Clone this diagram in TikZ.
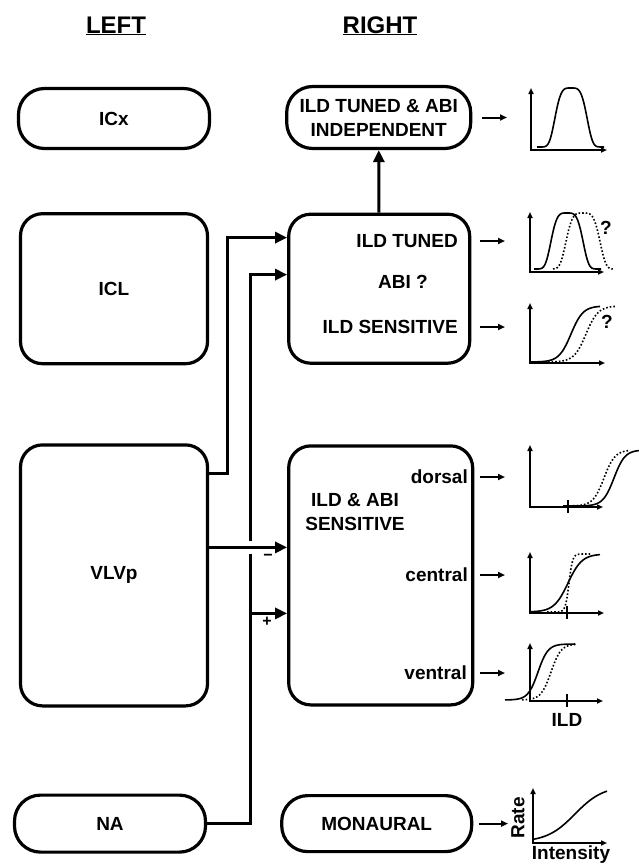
\documentclass[tikz,border=0pt]{standalone}
\usepackage{fontspec}
\setmainfont{Liberation Sans}
\usepackage{tikz}
\usetikzlibrary{positioning,calc,arrows.meta}

\begin{document}
\begin{tikzpicture}[
    x=1pt, y=-1pt,
    font=\fontsize{19}{24}\selectfont\bfseries,
    region/.style={rectangle, draw=black, line width=3.2pt, rounded corners=22pt, inner sep=0pt, align=center},
    pill/.style={region, rounded corners=26pt},
    lbl/.style={inner sep=0pt, anchor=east},
    heading/.style={inner sep=0pt, anchor=base, font=\fontsize{24}{28}\selectfont\bfseries},
    sign/.style={inner sep=0pt, font=\fontsize{16}{16}\selectfont\bfseries},
    arrow/.style={-{Triangle[length=12pt, width=11pt]}, line width=3pt},
    sarrow/.style={-{Triangle[length=7pt, width=6pt]}, line width=2pt},
    axis/.style={{Triangle[length=6pt, width=5pt]}-{Triangle[length=6pt, width=5pt]}, line width=1.5pt},
    tick/.style={line width=1.3pt},
    resp/.style={line width=1.6pt, line join=round},
    alt/.style={resp, dash pattern=on 1.6pt off 2pt}
]
\useasboundingbox (0,0) rectangle (639,865);

% headings
\node[heading] (leftHead) at (116,33) {\underline{LEFT}};
\node[heading] (rightHead) at (380,33) {\underline{RIGHT}};

% left side nuclei
\node[pill, minimum width=191pt, minimum height=60pt] (ICx) at (114,118.5) {ICx};
\node[region, minimum width=187pt, minimum height=150pt, below=62pt of ICx] (ICL) {ICL};
\node[region, minimum width=187pt, minimum height=261pt, below=78pt of ICL] (VLVp) {VLVp};
\node[pill, minimum width=191pt, minimum height=57pt, below=86pt of VLVp, xshift=-4pt] (NA) {NA};

% right side nuclei
\node[pill, minimum width=184pt, minimum height=62pt, right=74pt of ICx, yshift=1pt] (tunedIndep) {ILD TUNED \& ABI\\INDEPENDENT};
\node[region, minimum width=181pt, minimum height=149pt, right=78pt of ICL] (tunedBox) {};
\node[region, minimum width=184pt, minimum height=259pt, right=78pt of VLVp] (sensBox) {};
\node[pill, minimum width=190pt, minimum height=56pt, right=73pt of NA] (monaural) {MONAURAL};

\node[lbl] (ildTuned) at (458,241) {ILD TUNED};
\node[inner sep=0pt] (abiQ) at (403,282) {ABI ?};
\node[lbl] (ildSens) at (458,327) {ILD SENSITIVE};
\node[inner sep=0pt, align=center] (sensTitle) at (355,512) {ILD \& ABI\\SENSITIVE};
\node[lbl] (dorsal) at (468,477) {dorsal};
\node[lbl] (central) at (468,575) {central};
\node[lbl] (ventral) at (467,673) {ventral};

% projections
\coordinate (naBend) at ([xshift=43pt]NA.east);
\coordinate (inhib) at ([yshift=28pt]VLVp.east);
\coordinate (excit) at ([yshift=-38pt]sensBox.west);

\draw[arrow] ([yshift=-30pt]VLVp.north east) -- ++(18,0) |- ([yshift=-25pt]tunedBox.north west);
\draw[arrow] (NA.east) -- (naBend) |- ([yshift=-62pt]tunedBox.north west);
\draw[white, line width=13pt] ($(inhib -| naBend)+(-5,0)$) -- ($(inhib -| naBend)+(5,0)$);
\draw[arrow] (inhib) -- (inhib -| sensBox.west);
\draw[arrow] (excit -| naBend) -- (excit);
\draw[arrow] (tunedBox) -- (tunedIndep);

\node[sign] (minus) at (268,557) {−};
\node[sign] (plus) at (267,622) {+};

% response curves
\coordinate (g1) at (531,150);
\coordinate (g2) at (530,272);
\coordinate (g3) at (530,363);
\coordinate (g4) at (530,507);
\coordinate (g5) at (530,613);
\coordinate (g6) at (530,701);
\coordinate (g7) at (533,843);

\draw[sarrow, shorten <=10pt, shorten >=24pt] (tunedIndep.east) -- (tunedIndep.east -| g1);
\draw[sarrow, shorten <=9pt, shorten >=25pt] (ildTuned -| tunedBox.east) -- (ildTuned -| g2);
\draw[sarrow, shorten <=9pt, shorten >=25pt] (ildSens -| tunedBox.east) -- (ildSens -| g3);
\draw[sarrow, shorten <=6pt, shorten >=25pt] (dorsal -| sensBox.east) -- (dorsal -| g4);
\draw[sarrow, shorten <=6pt, shorten >=25pt] (central -| sensBox.east) -- (central -| g5);
\draw[sarrow, shorten <=6pt, shorten >=25pt] (ventral -| sensBox.east) -- (ventral -| g6);
\draw[sarrow, shorten <=6pt, shorten >=25pt] (monaural.east) -- (monaural.east -| g7);

\draw[axis] (531,88) -- (g1) -- (607,150);
\draw[resp] (537,147) -- plot[domain=541:601, samples=70] (\x, {147-59*exp(-(abs(\x-571)/17.5)^4)}) -- (604,147);

\draw[axis] (530,212) -- (g2) -- (604,272);
\draw[resp] (534,269) -- plot[domain=537:597, samples=70] (\x, {269-56*exp(-(abs(\x-567)/17.5)^4)}) -- (601,269);
\draw[alt] plot[domain=553:613, samples=70] (\x, {269-56*exp(-(abs(\x-583)/18.5)^4)});
\node (q1) at (606,228) {?};

\draw[axis] (530,303) -- (g3) -- (605,363);
\draw[resp] plot[domain=531:600, samples=60] (\x, {362-56/(1+exp(-(\x-571)/6))});
\draw[alt] plot[domain=548:615, samples=60] (\x, {362-56/(1+exp(-(\x-586)/6))});
\node (q2) at (607,322) {?};

\draw[axis] (530,445) -- (g4) -- (603,507);
\draw[tick] (568,500) -- (568,513);
\draw[resp] (563,506) -- plot[domain=575:639, samples=60] (\x, {506-56/(1+exp(-(\x-614)/5.5))});
\draw[alt] plot[domain=566:630, samples=60] (\x, {506-56/(1+exp(-(\x-604)/5.5))});

\draw[axis] (530,552) -- (g5) -- (604,613);
\draw[tick] (567,606) -- (567,619);
\draw[resp] plot[domain=531:600, samples=60] (\x, {612-58/(1+exp(-(\x-568)/7))});
\draw[alt] (547,612) -- plot[domain=556:582, samples=50] (\x, {612-58/(1+exp(-(\x-569)/1.8))}) -- (590,554);

\draw[axis] (530,643) -- (g6) -- (603,701);
\draw[tick] (567,694) -- (567,707);
\draw[resp] plot[domain=505:575, samples=60] (\x, {700-56/(1+exp(-(\x-538)/5))});
\draw[alt] plot[domain=522:576, samples=60] (\x, {700-56/(1+exp(-(\x-551)/5))});
\node (ildAxis) at (567,720) {ILD};

\draw[axis] (533,788) -- (g7) -- (607,843);
\draw[resp] plot[domain=533:607, samples=60] (\x, {842-56/(1+exp(-(\x-575)/14))});
\node[rotate=90] (rate) at (518,818) {Rate};
\node[inner sep=0pt] (intensity) at (571,855) {Intensity};

\end{tikzpicture}
\end{document}
